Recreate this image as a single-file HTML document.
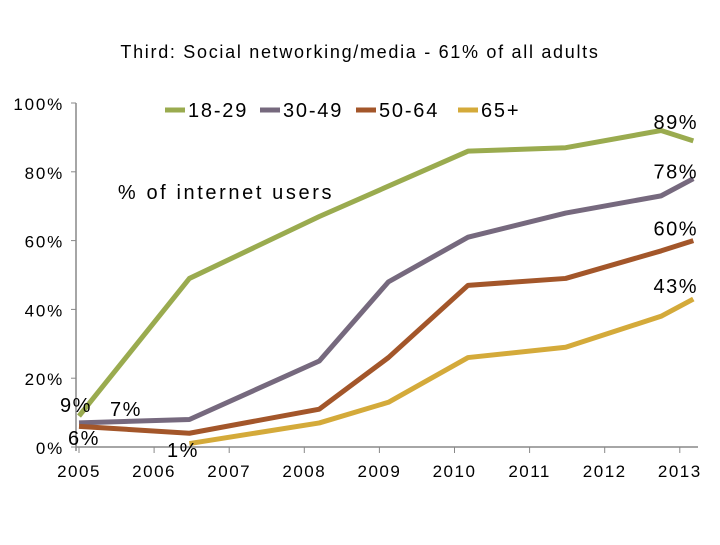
<!DOCTYPE html>
<html><head><meta charset="utf-8"><style>
body{margin:0;background:#fff;}
svg text{font-family:"Liberation Sans",sans-serif;fill:#000;}
</style></head><body>
<svg id="chart" width="720" height="540" xmlns="http://www.w3.org/2000/svg">
<text x="360" y="58" font-size="18" letter-spacing="1.7" text-anchor="middle">Third: Social networking/media - 61% of all adults</text>
<text x="226" y="199" font-size="20" letter-spacing="2.6" text-anchor="middle">% of internet users</text>
<g id="axes"></g><g id="lines"></g><g id="labels"></g><g id="legend"></g>
</svg>
<script>
const years=[2005,2006,2007,2008,2009,2010,2011,2012,2013];
const yTicks=[0,20,40,60,80,100];
const seriesNames=['18-29','30-49','50-64','65+'];
const seriesColors=['#9aab4f','#76697e','#a3562a','#d4aa3a'];
const xs18=[2005.0,2006.47,2008.2,2010.18,2011.48,2012.75,2013.18];
const v18=[9,49,67,86,87,92,89];
const xs30=[2005.0,2006.47,2008.2,2009.12,2010.18,2011.48,2012.75,2013.18];
const v30=[7,8,25,48,61,68,73,78];
const xs50=[2005.0,2006.47,2008.2,2009.12,2010.18,2011.48,2012.75,2013.18];
const v50=[6,4,11,26,47,49,57,60];
const xs65=[2006.47,2008.2,2009.12,2010.18,2011.48,2012.75,2013.18];
const v65=[1,7,13,26,29,38,43];
const endLabels=['89%','78%','60%','43%'];
const endOffsets=[-12,0,-5,-6];
const NS='http://www.w3.org/2000/svg';
const X=y=>79+(y-2005)*75.1;
const Y=v=>447-v*3.44;
function mk(tag,attrs,parent,txt){const e=document.createElementNS(NS,tag);for(const k in attrs)e.setAttribute(k,attrs[k]);if(txt!==undefined)e.textContent=txt;document.getElementById(parent).appendChild(e);return e;}
let e=mk('line',{x1:76,y1:Y(0),x2:698,y2:Y(0),stroke:'#888','stroke-width':1.5},'axes');


e=mk('line',{x1:76,y1:Y(100),x2:76,y2:Y(0)+4,stroke:'#888','stroke-width':1.5},'axes');


yTicks.forEach(t=>{const l=mk('line',{x1:71,x2:76,y1:Y(t),y2:Y(t),stroke:'#888'},'axes');


const tx=mk('text',{x:64,y:Y(t)+7,'font-size':17,'letter-spacing':1.8,'text-anchor':'end'},'axes',t+'%');

});
years.forEach(yr=>{const l=mk('line',{x1:X(yr),x2:X(yr),y1:Y(0),y2:Y(0)+6,stroke:'#888'},'axes');


const tx=mk('text',{x:X(yr),y:Y(0)+30,'font-size':17,'letter-spacing':1.5,'text-anchor':'middle'},'axes',yr);

});
const allX=[xs18,xs30,xs50,xs65],allV=[v18,v30,v50,v65];
allV.forEach((vals,i)=>{const pts=vals.map((v,j)=>X(allX[i][j])+','+Y(v)).join(' ');
const p=mk('polyline',{points:pts,fill:'none',stroke:seriesColors[i],'stroke-width':5,'stroke-linejoin':'round'},'lines');


const last=vals.length-1;
const t=mk('text',{x:698,y:Y(vals[last])+endOffsets[i],'font-size':20,'letter-spacing':1.5,'text-anchor':'end'},'labels',endLabels[i]);

});
[['9%',60,412],['7%',110,416],['6%',68,445],['1%',167,457]].forEach(a=>{
const t=mk('text',{x:a[1],y:a[2],'font-size':20,'letter-spacing':1.5},'labels',a[0]);

});
const lx=[165,260,356,458];
seriesNames.forEach((n,i)=>{const l=mk('line',{x1:lx[i],x2:lx[i]+20,y1:110,y2:110,stroke:seriesColors[i],'stroke-width':5},'legend');


const t=mk('text',{x:lx[i]+23,y:117,'font-size':20,'letter-spacing':1.8},'legend',n);

});
</script>
</body></html>
